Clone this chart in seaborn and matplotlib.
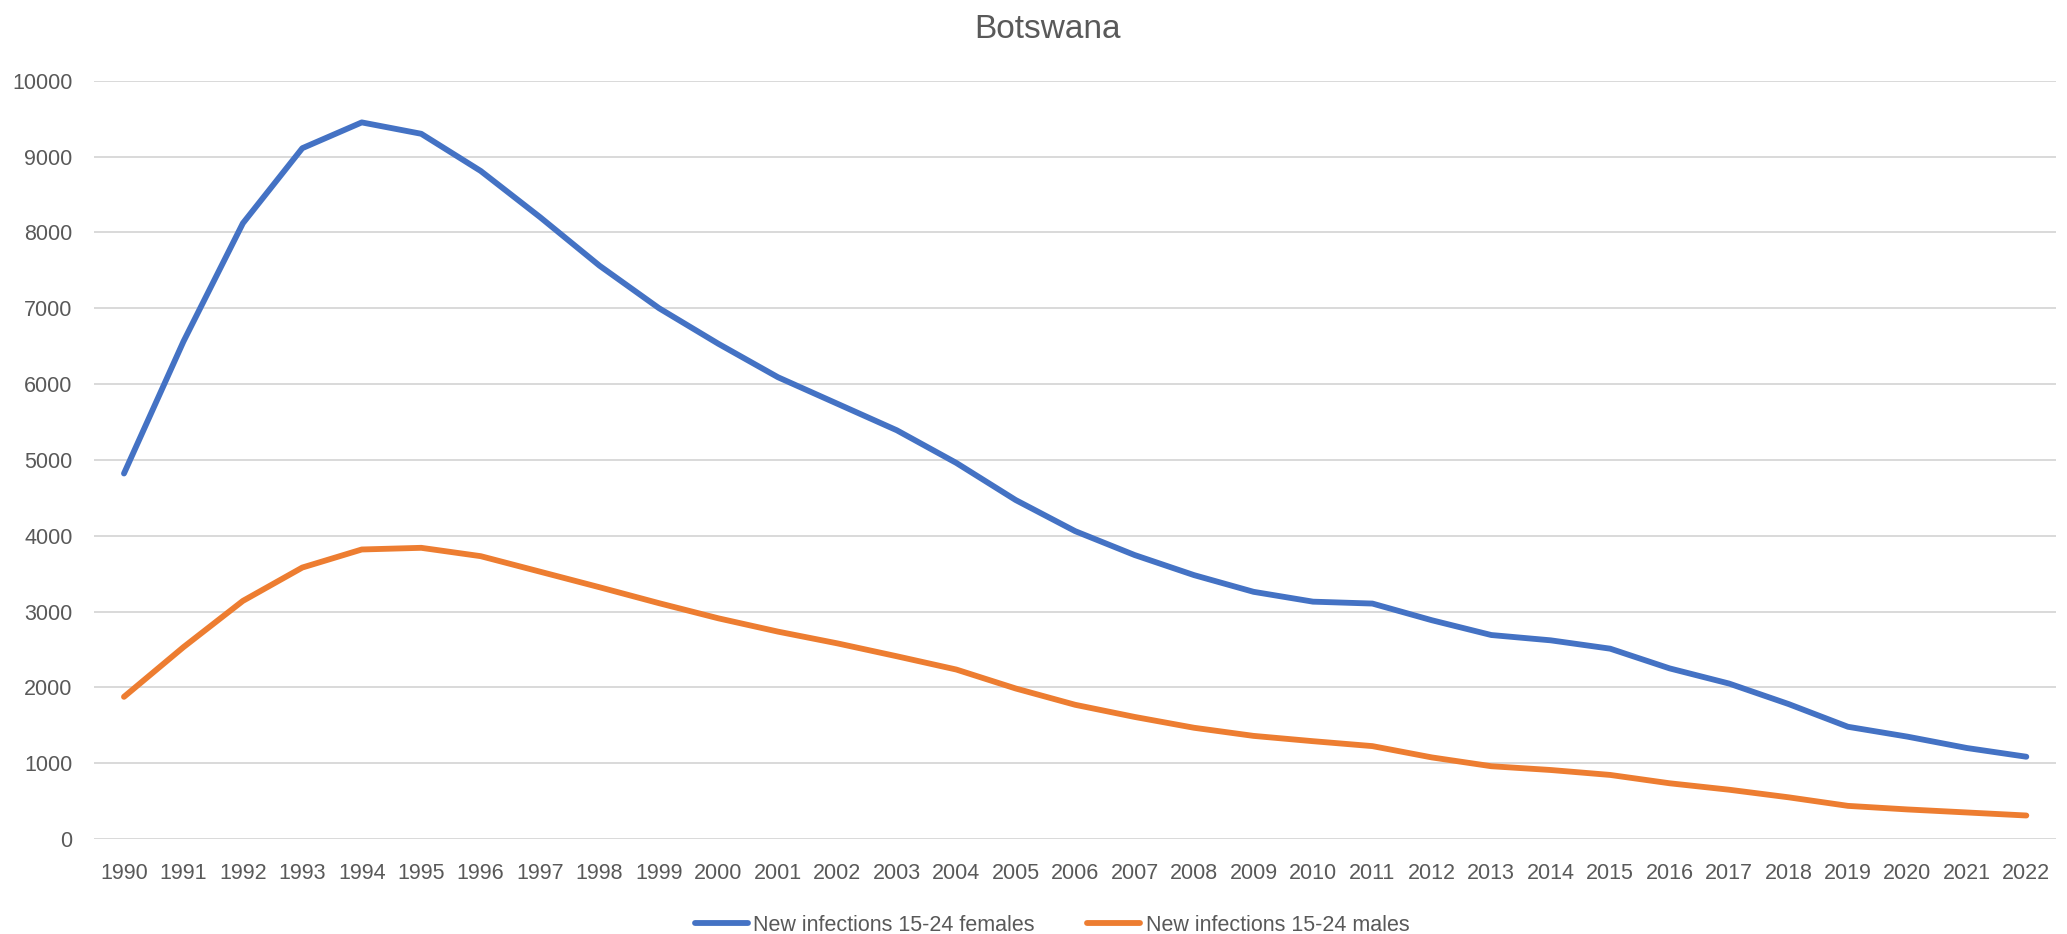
import matplotlib
matplotlib.use("Agg")
import matplotlib.pyplot as plt
import pandas as pd
import seaborn as sns

# New HIV infections among young people (15-24), Botswana
years = list(range(1990, 2023))
females = [4820, 6560, 8120, 9110, 9450, 9300, 8810, 8200, 7560, 7000,
           6530, 6090, 5740, 5390, 4960, 4470, 4060, 3745, 3480, 3260,
           3130, 3105, 2885, 2690, 2620, 2510, 2250, 2050, 1780, 1480,
           1350, 1200, 1085]
males = [1875, 2530, 3140, 3580, 3818, 3840, 3730, 3525, 3320, 3110,
         2910, 2735, 2580, 2410, 2235, 1985, 1770, 1610, 1467, 1360,
         1290, 1225, 1076, 960, 910, 845, 735, 650, 550, 437,
         390, 350, 310]
series_names = ["New infections 15-24 females", "New infections 15-24 males"]
title = "Botswana"

BLUE = "#4472C4"
ORANGE = "#ED7D31"
TEXT = "#595959"
GRID = "#D9D9D9"

df = pd.DataFrame({
    "Year": years * 2,
    "Value": females + males,
    "Series": [series_names[0]] * len(years) + [series_names[1]] * len(years),
})

sns.set_theme(style="white")
plt.rcParams["font.family"] = ["Liberation Sans", "DejaVu Sans"]

fig = plt.figure(figsize=(20.67, 9.34), dpi=100)
ax = fig.add_axes([0.0456, 0.1017, 0.9491, 0.8119])

sns.lineplot(data=df, x="Year", y="Value", hue="Series",
             palette=[BLUE, ORANGE], linewidth=4.2, ax=ax, legend=False)
for ln in ax.get_lines():
    ln.set_solid_capstyle("round")
    ln.set_solid_joinstyle("round")

ax.set_xlim(1989.5, 2022.5)
ax.set_ylim(0, 10000)
ax.set_xticks(years)
ax.set_yticks(range(0, 10001, 1000))
ax.set_xlabel("")
ax.set_ylabel("")
ax.yaxis.grid(True, color=GRID, linewidth=1.4)
ax.xaxis.grid(False)
ax.set_axisbelow(True)
for s in ax.spines.values():
    s.set_visible(False)
ax.tick_params(axis="x", length=0, pad=17.5, labelsize=15.5, labelcolor=TEXT)
ax.tick_params(axis="y", length=0, pad=15.5, labelsize=15.5, labelcolor=TEXT)

fig.text(0.507, 0.9593, title, ha="center", va="baseline",
         fontsize=24, color=TEXT)

handles = ax.get_lines()[:2]
fig.legend(handles, series_names, loc="center", bbox_to_anchor=(0.509, 0.0096),
           ncol=2, frameon=False, handlelength=2.45, handletextpad=0.25,
           columnspacing=2.45, fontsize=15.5, labelcolor=TEXT)

fig.savefig("out.png", dpi=100)
